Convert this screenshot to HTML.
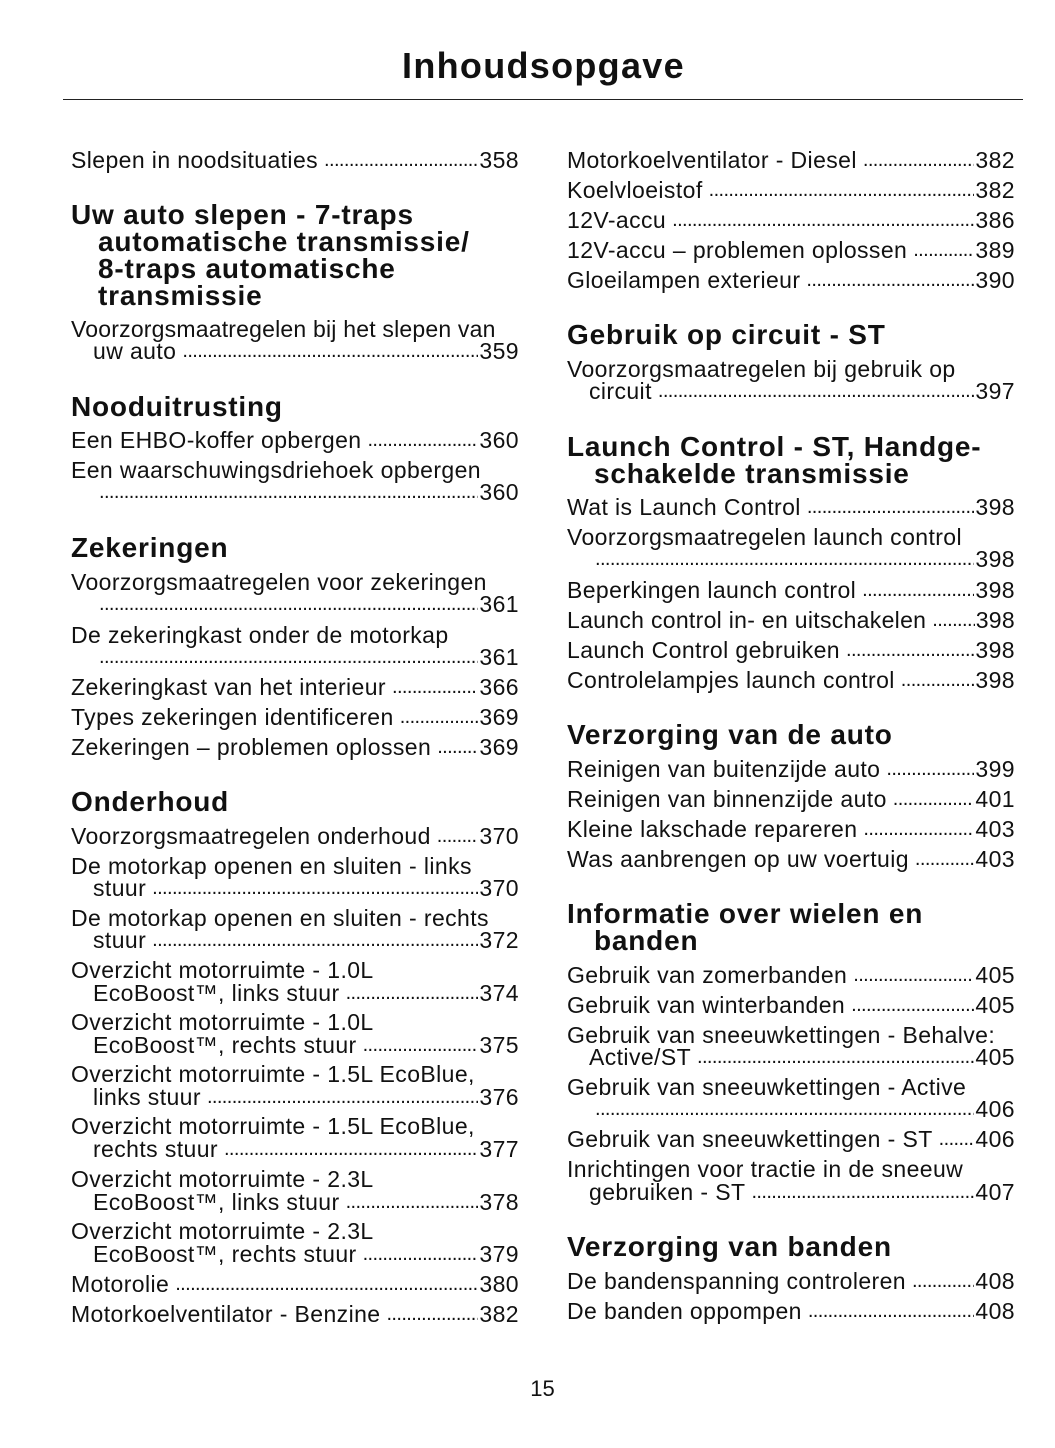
<!DOCTYPE html>
<html><head><meta charset="utf-8"><style>
body{margin:0;width:1055px;height:1448px;background:#fff;position:relative;font-family:"Liberation Sans",sans-serif;color:#111;overflow:hidden}
.t{position:absolute;left:0;width:1087px;text-align:center;top:45px;font-size:36px;font-weight:bold;letter-spacing:1.3px}
.r{position:absolute;left:63px;width:960px;top:99px;height:1px;background:#222}
.l,.h{position:absolute;height:26px;line-height:26px;white-space:nowrap}
.l{font-size:23px;display:flex;width:448px;letter-spacing:0.4px}
.L{left:71px}.R{left:567px}
.l.i{padding-left:22px;width:426px}
.d{flex:1;overflow:hidden;white-space:nowrap;letter-spacing:-0.6px;font-size:20px;margin-left:6px;margin-right:1px}
.d::before{content:"........................................................................................................................................................"}
.h{font-size:28px;font-weight:bold;letter-spacing:0.8px}
.h.i{padding-left:27px}
.p{position:absolute;left:0;width:1085px;text-align:center;top:1376px;font-size:22px}
</style></head><body>
<div class="t">Inhoudsopgave</div>
<div class="r"></div>

<div class="l L" style="top:147px">Slepen in noodsituaties<span class="d"></span>358</div>
<div class="h L" style="top:202px">Uw auto slepen - 7-traps</div>
<div class="h L i" style="top:229px">automatische transmissie/</div>
<div class="h L i" style="top:256px">8-traps automatische</div>
<div class="h L i" style="top:283px">transmissie</div>
<div class="l L" style="top:316px;letter-spacing:0.2px">Voorzorgsmaatregelen bij het slepen van</div>
<div class="l L i" style="top:338px">uw auto<span class="d"></span>359</div>
<div class="h L" style="top:394px">Nooduitrusting</div>
<div class="l L" style="top:427px">Een EHBO-koffer opbergen<span class="d"></span>360</div>
<div class="l L" style="top:457px">Een waarschuwingsdriehoek opbergen</div>
<div class="l L i" style="top:479px"><span class="d"></span>360</div>
<div class="h L" style="top:535px">Zekeringen</div>
<div class="l L" style="top:569px">Voorzorgsmaatregelen voor zekeringen</div>
<div class="l L i" style="top:591px"><span class="d"></span>361</div>
<div class="l L" style="top:622px">De zekeringkast onder de motorkap</div>
<div class="l L i" style="top:644px"><span class="d"></span>361</div>
<div class="l L" style="top:674px">Zekeringkast van het interieur<span class="d"></span>366</div>
<div class="l L" style="top:704px">Types zekeringen identificeren<span class="d"></span>369</div>
<div class="l L" style="top:734px">Zekeringen – problemen oplossen<span class="d"></span>369</div>
<div class="h L" style="top:789px">Onderhoud</div>
<div class="l L" style="top:823px">Voorzorgsmaatregelen onderhoud<span class="d"></span>370</div>
<div class="l L" style="top:853px">De motorkap openen en sluiten - links</div>
<div class="l L i" style="top:875px">stuur<span class="d"></span>370</div>
<div class="l L" style="top:905px">De motorkap openen en sluiten - rechts</div>
<div class="l L i" style="top:927px">stuur<span class="d"></span>372</div>
<div class="l L" style="top:957px">Overzicht motorruimte - 1.0L</div>
<div class="l L i" style="top:980px">EcoBoost™, links stuur<span class="d"></span>374</div>
<div class="l L" style="top:1009px">Overzicht motorruimte - 1.0L</div>
<div class="l L i" style="top:1032px">EcoBoost™, rechts stuur<span class="d"></span>375</div>
<div class="l L" style="top:1061px">Overzicht motorruimte - 1.5L EcoBlue,</div>
<div class="l L i" style="top:1084px">links stuur<span class="d"></span>376</div>
<div class="l L" style="top:1113px">Overzicht motorruimte - 1.5L EcoBlue,</div>
<div class="l L i" style="top:1136px">rechts stuur<span class="d"></span>377</div>
<div class="l L" style="top:1166px">Overzicht motorruimte - 2.3L</div>
<div class="l L i" style="top:1189px">EcoBoost™, links stuur<span class="d"></span>378</div>
<div class="l L" style="top:1218px">Overzicht motorruimte - 2.3L</div>
<div class="l L i" style="top:1241px">EcoBoost™, rechts stuur<span class="d"></span>379</div>
<div class="l L" style="top:1271px">Motorolie<span class="d"></span>380</div>
<div class="l L" style="top:1301px">Motorkoelventilator - Benzine<span class="d"></span>382</div>

<div class="l R" style="top:147px">Motorkoelventilator - Diesel<span class="d"></span>382</div>
<div class="l R" style="top:177px">Koelvloeistof<span class="d"></span>382</div>
<div class="l R" style="top:207px">12V-accu<span class="d"></span>386</div>
<div class="l R" style="top:237px">12V-accu – problemen oplossen<span class="d"></span>389</div>
<div class="l R" style="top:267px">Gloeilampen exterieur<span class="d"></span>390</div>
<div class="h R" style="top:322px">Gebruik op circuit - ST</div>
<div class="l R" style="top:356px">Voorzorgsmaatregelen bij gebruik op</div>
<div class="l R i" style="top:378px">circuit<span class="d"></span>397</div>
<div class="h R" style="top:434px">Launch Control - ST, Handge-</div>
<div class="h R i" style="top:461px">schakelde transmissie</div>
<div class="l R" style="top:494px">Wat is Launch Control<span class="d"></span>398</div>
<div class="l R" style="top:524px">Voorzorgsmaatregelen launch control</div>
<div class="l R i" style="top:546px"><span class="d"></span>398</div>
<div class="l R" style="top:577px">Beperkingen launch control<span class="d"></span>398</div>
<div class="l R" style="top:607px;letter-spacing:0.3px">Launch control in- en uitschakelen<span class="d"></span>398</div>
<div class="l R" style="top:637px">Launch Control gebruiken<span class="d"></span>398</div>
<div class="l R" style="top:667px">Controlelampjes launch control<span class="d"></span>398</div>
<div class="h R" style="top:722px">Verzorging van de auto</div>
<div class="l R" style="top:756px">Reinigen van buitenzijde auto<span class="d"></span>399</div>
<div class="l R" style="top:786px">Reinigen van binnenzijde auto<span class="d"></span>401</div>
<div class="l R" style="top:816px">Kleine lakschade repareren<span class="d"></span>403</div>
<div class="l R" style="top:846px">Was aanbrengen op uw voertuig<span class="d"></span>403</div>
<div class="h R" style="top:901px">Informatie over wielen en</div>
<div class="h R i" style="top:928px">banden</div>
<div class="l R" style="top:962px">Gebruik van zomerbanden<span class="d"></span>405</div>
<div class="l R" style="top:992px">Gebruik van winterbanden<span class="d"></span>405</div>
<div class="l R" style="top:1022px">Gebruik van sneeuwkettingen - Behalve:</div>
<div class="l R i" style="top:1044px">Active/ST<span class="d"></span>405</div>
<div class="l R" style="top:1074px">Gebruik van sneeuwkettingen - Active</div>
<div class="l R i" style="top:1096px"><span class="d"></span>406</div>
<div class="l R" style="top:1126px">Gebruik van sneeuwkettingen - ST<span class="d"></span>406</div>
<div class="l R" style="top:1156px">Inrichtingen voor tractie in de sneeuw</div>
<div class="l R i" style="top:1179px">gebruiken - ST<span class="d"></span>407</div>
<div class="h R" style="top:1234px">Verzorging van banden</div>
<div class="l R" style="top:1268px">De bandenspanning controleren<span class="d"></span>408</div>
<div class="l R" style="top:1298px">De banden oppompen<span class="d"></span>408</div>

<div class="p">15</div>
</body></html>
